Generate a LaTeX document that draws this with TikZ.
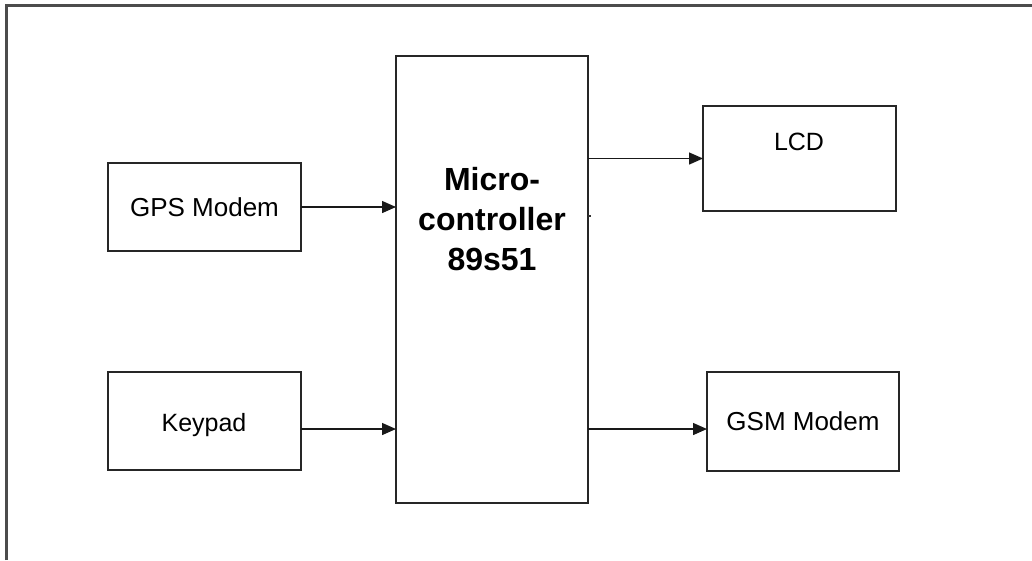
\documentclass[tikz,border=0pt]{standalone}
\usepackage{fontspec}
\setmainfont{Liberation Sans}
\usetikzlibrary{arrows.meta}
\tikzset{
  blk/.style={draw=black!85, line width=1.7pt, fill=white, inner sep=0pt, outer sep=0pt,
    font=\fontsize{26}{30}\selectfont},
  lbl/.style={inner sep=0pt, font=\fontsize{25}{30}\selectfont},
  conn/.style={draw=black!90, line width=1.4pt, -{Triangle[length=14pt,width=12pt]}},
  frame/.style={draw=black!70, line width=2.4pt}
}
\begin{document}
\begin{tikzpicture}[x=1pt,y=-1pt]
\useasboundingbox (0,0) rectangle (1032,560);
\draw[frame] (6.5,560) -- (6.5,5.5) -- (1032,5.5);
\node[blk, minimum width=193pt, minimum height=88pt] (gps) at (204.5,207) {GPS Modem};
\node[blk, minimum width=193pt, minimum height=98pt] (kp) at (204.5,421) {};
\node[lbl] (kptxt) at (204,425) {Keypad};
\node[blk, minimum width=192pt, minimum height=447pt] (mc) at (492,279.5) {};
\node[font=\bfseries\fontsize{32}{40}\selectfont, align=center, inner sep=0pt] (mctxt) at (492,219) {Micro-\\controller\\89s51};
\node[blk, minimum width=193pt, minimum height=105pt] (lcd) at (799.5,158.5) {};
\node[lbl] (lcdtxt) at (799,142) {LCD};
\node[blk, minimum width=192pt, minimum height=99pt] (gsm) at (803,421.5) {GSM Modem};
\coordinate (kpout) at ([yshift=-8pt]kp.east);
\coordinate (gsmin) at ([yshift=-7.5pt]gsm.west);
\draw[conn] (gps.east) -- (gps.east -| mc.west);
\draw[conn] (kpout) -- (kpout -| mc.west);
\draw[conn] (mc.east |- lcd.west) -- (lcd.west);
\draw[conn] (mc.east |- gsmin) -- (gsmin);
\coordinate (stub) at ([yshift=-160pt]mc.north east);
\draw[line width=1.2pt, black!80] (stub) -- ++(3,0);
\end{tikzpicture}
\end{document}
